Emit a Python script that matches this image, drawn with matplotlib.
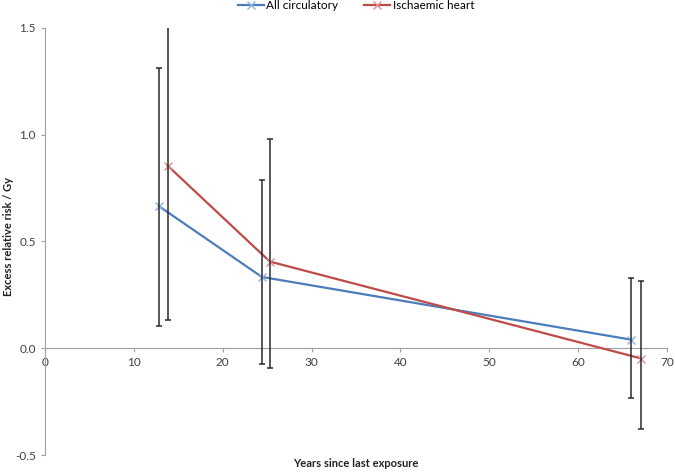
import matplotlib
matplotlib.use("Agg")
import matplotlib.pyplot as plt
from matplotlib.ticker import FormatStrFormatter

plt.rcParams["font.family"] = ["Lato", "DejaVu Sans"]

# data
years_all = [12.8, 24.4, 66.0]
err_all = [0.666, 0.334, 0.040]
lo_all = [0.105, -0.075, -0.233]
hi_all = [1.314, 0.786, 0.331]

years_ihd = [13.8, 25.3, 67.1]
err_ihd = [0.855, 0.406, -0.048]
lo_ihd = [0.130, -0.094, -0.380]
hi_ihd = [1.60, 0.980, 0.316]

fig = plt.figure(figsize=(6.75, 4.72), dpi=100)
ax = fig.add_axes([0.0667, 0.036, 0.9215, 0.9047])

blue = "#4a7ebb"
red = "#be4b48"

ax.plot(years_all, err_all, color=blue, lw=1.6, marker="x", ms=6,
        mec="#8fb3e0", mew=1.0, label="All circulatory", zorder=3)
ax.plot(years_ihd, err_ihd, color=red, lw=1.6, marker="x", ms=6,
        mec="#e08f8d", mew=1.0, label="Ischaemic heart", zorder=3)

for xs, ys, lo, hi in [(years_all, err_all, lo_all, hi_all),
                       (years_ihd, err_ihd, lo_ihd, hi_ihd)]:
    yerr = [[y - l for y, l in zip(ys, lo)], [h - y for y, h in zip(ys, hi)]]
    ax.errorbar(xs, ys, yerr=yerr, fmt="none", ecolor="#2a2a2a",
                elinewidth=1.1, capsize=2.5, capthick=1.1, zorder=4)

ax.set_xlim(0, 70)
ax.set_ylim(-0.5, 1.5)
ax.set_xticks(range(0, 71, 10))
ax.set_yticks([-0.5, 0.0, 0.5, 1.0, 1.5])
ax.yaxis.set_major_formatter(FormatStrFormatter("%.1f"))

for s in ["top", "right"]:
    ax.spines[s].set_visible(False)
ax.spines["bottom"].set_position(("data", 0))
ax.spines["left"].set_color("#a0a0a0")
ax.spines["bottom"].set_color("#a0a0a0")
ax.tick_params(axis="both", colors="#a0a0a0", labelcolor="#404040",
               labelsize=8.5, length=3, direction="out")

fig.text(0.012, 0.5, "Excess relative risk / Gy", rotation=90, fontsize=8,
         fontweight="bold", va="center", ha="center", color="#222222")
fig.text(0.527, 0.018, "Years since last exposure", fontsize=8,
         fontweight="bold", ha="center", va="center", color="#222222")

ax.legend(loc="upper center", bbox_to_anchor=(0.5, 1.09), ncol=2,
          frameon=False, fontsize=8.5, handlelength=2.2, columnspacing=2.2,
          handletextpad=0.2)

fig.savefig("out.png", dpi=100)
